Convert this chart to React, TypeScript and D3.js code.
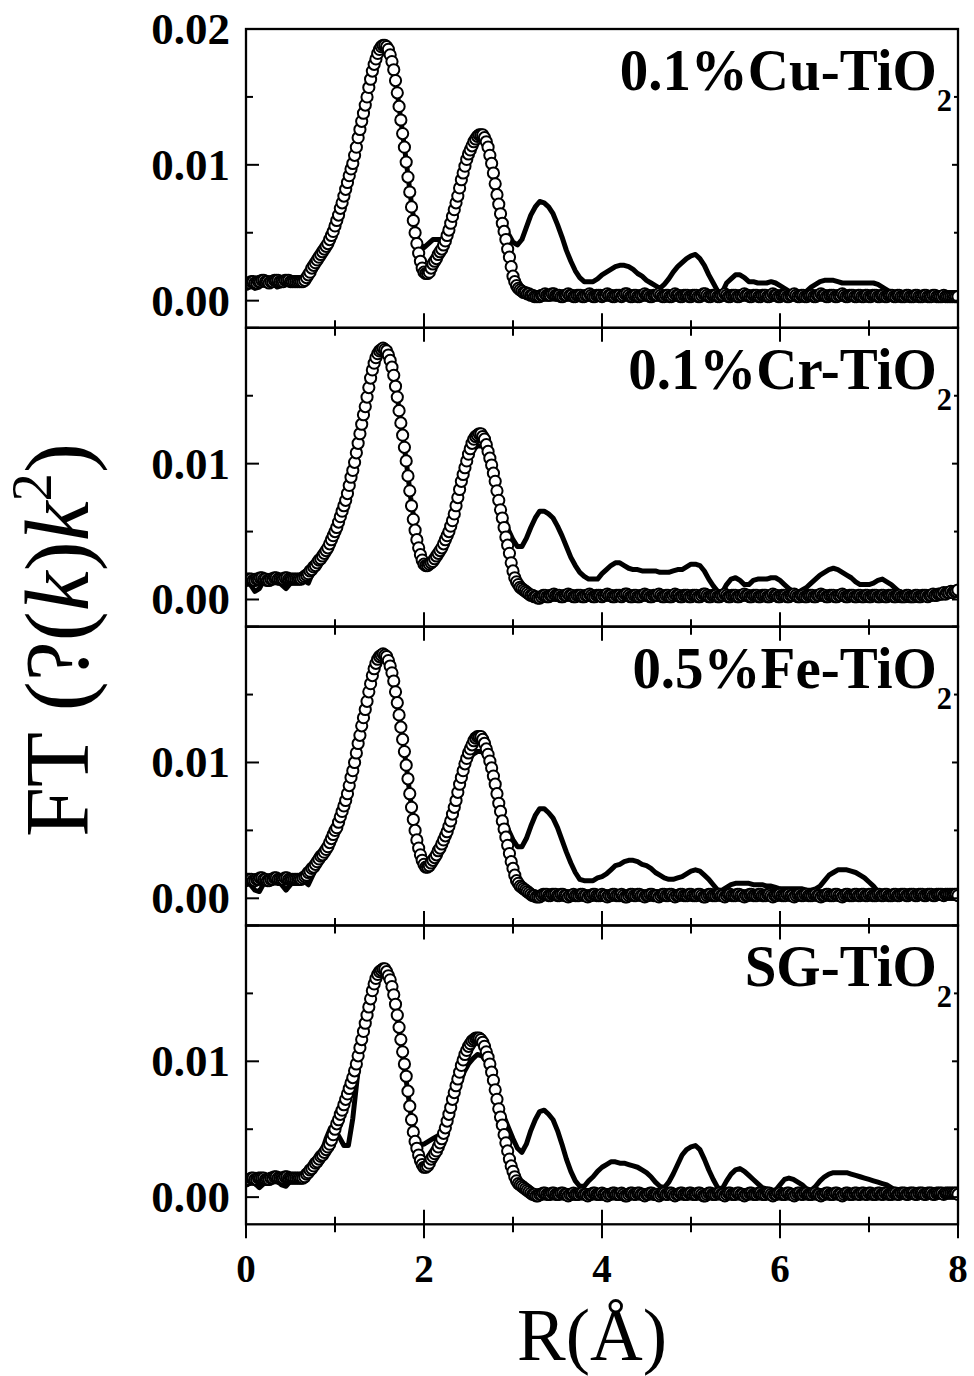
import React from "react";
import * as d3 from "d3";

// Sampling of the two data families along R (Å)
const FIT_STEP = 0.02; // open-circle series
const EXP_STEP = 0.05; // solid-line series

// ---------- 0.1%Cu-TiO2 ----------
const cuFit = [
  0.0012,0.0013,0.0013,0.0014,0.0014,0.0013,0.0013,0.0014,0.0014,0.0015,0.0015,0.0014,0.0014,0.0013,0.0014,0.0014,0.0015,0.0015,0.0015,0.0014,0.0014,0.0014,0.0015,0.0015,0.0015,
  0.0014,0.0014,0.0014,0.0014,0.0014,0.0014,0.0014,0.0014,0.0015,0.0017,0.0019,0.0021,0.0024,0.0026,0.0028,0.0030,0.0032,0.0034,0.0036,0.0038,0.0040,0.0042,0.0045,0.0048,0.0051,
  0.0055,0.0059,0.0063,0.0068,0.0072,0.0077,0.0082,0.0087,0.0092,0.0097,0.0101,0.0107,0.0113,0.0120,0.0126,0.0132,0.0138,0.0144,0.0150,0.0157,0.0163,0.0169,0.0174,0.0178,0.0182,
  0.0185,0.0187,0.0188,0.0188,0.0187,0.0185,0.0181,0.0176,0.0170,0.0162,0.0153,0.0143,0.0133,0.0123,0.0113,0.0102,0.0091,0.0080,0.0069,0.0059,0.0050,0.0042,0.0035,0.0029,0.0024,
  0.0021,0.0020,0.0020,0.0021,0.0024,0.0027,0.0029,0.0031,0.0034,0.0036,0.0038,0.0041,0.0044,0.0048,0.0052,0.0057,0.0062,0.0067,0.0072,0.0077,0.0083,0.0089,0.0094,0.0099,0.0104,
  0.0108,0.0111,0.0114,0.0117,0.0119,0.0121,0.0122,0.0122,0.0122,0.0120,0.0117,0.0113,0.0107,0.0101,0.0094,0.0086,0.0078,0.0071,0.0064,0.0057,0.0051,0.0045,0.0038,0.0032,0.0025,
  0.0018,0.0014,0.0011,0.0009,0.0008,0.0007,0.0006,0.0006,0.0005,0.0005,0.0004,0.0004,0.0003,0.0003,0.0003,0.0003,0.0004,0.0004,0.0005,0.0004,0.0004,0.0004,0.0005,0.0005,0.0004,
  0.0004,0.0004,0.0003,0.0003,0.0004,0.0004,0.0005,0.0004,0.0004,0.0003,0.0003,0.0004,0.0004,0.0004,0.0003,0.0003,0.0004,0.0004,0.0005,0.0004,0.0003,0.0003,0.0004,0.0004,0.0004,
  0.0003,0.0004,0.0004,0.0005,0.0004,0.0004,0.0003,0.0003,0.0004,0.0004,0.0004,0.0003,0.0004,0.0005,0.0005,0.0004,0.0003,0.0003,0.0004,0.0004,0.0003,0.0003,0.0004,0.0004,0.0005,
  0.0004,0.0004,0.0003,0.0003,0.0004,0.0004,0.0004,0.0005,0.0004,0.0003,0.0003,0.0004,0.0004,0.0003,0.0003,0.0004,0.0005,0.0004,0.0004,0.0003,0.0003,0.0004,0.0004,0.0004,0.0003,
  0.0003,0.0004,0.0004,0.0004,0.0003,0.0003,0.0004,0.0005,0.0005,0.0004,0.0003,0.0003,0.0004,0.0004,0.0004,0.0003,0.0003,0.0004,0.0004,0.0005,0.0004,0.0003,0.0003,0.0004,0.0004,
  0.0004,0.0003,0.0003,0.0004,0.0004,0.0005,0.0004,0.0004,0.0003,0.0003,0.0004,0.0004,0.0004,0.0003,0.0003,0.0004,0.0004,0.0004,0.0003,0.0003,0.0004,0.0005,0.0004,0.0004,0.0003,
  0.0003,0.0004,0.0004,0.0004,0.0003,0.0003,0.0004,0.0004,0.0005,0.0004,0.0003,0.0003,0.0004,0.0004,0.0003,0.0003,0.0004,0.0004,0.0004,0.0003,0.0003,0.0004,0.0004,0.0005,0.0004,
  0.0004,0.0003,0.0003,0.0004,0.0004,0.0004,0.0003,0.0003,0.0004,0.0004,0.0005,0.0004,0.0003,0.0003,0.0004,0.0004,0.0004,0.0003,0.0003,0.0004,0.0004,0.0003,0.0003,0.0004,0.0004,
  0.0003,0.0003,0.0004,0.0004,0.0004,0.0003,0.0003,0.0004,0.0004,0.0003,0.0003,0.0004,0.0004,0.0004,0.0003,0.0003,0.0004,0.0004,0.0003,0.0003,0.0003,0.0004,0.0004,0.0003,0.0003,
  0.0003,0.0004,0.0004,0.0003,0.0003,0.0003,0.0004,0.0004,0.0003,0.0003,0.0003,0.0004,0.0004,0.0003,0.0003,0.0003,0.0003,0.0004,0.0003,0.0003,0.0003,0.0003,0.0003,0.0003,0.0003,
  0.0003,
];
const cuExp = [
  0.0012,0.0011,0.0009,0.0010,0.0013,0.0014,0.0013,0.0010,0.0011,0.0014,
  0.0014,0.0013,0.0013,0.0014,0.0018,0.0024,0.0029,0.0034,0.0039,0.0046,
  0.0055,0.0065,0.0077,0.0090,0.0101,0.0117,0.0132,0.0147,0.0163,0.0176,
  0.0184,0.0187,0.0184,0.0172,0.0153,0.0128,0.0103,0.0076,0.0053,0.0041,
  0.0039,0.0042,0.0045,0.0045,0.0045,0.0049,0.0057,0.0070,0.0083,0.0096,
  0.0107,0.0115,0.0120,0.0120,0.0116,0.0106,0.0090,0.0073,0.0058,0.0049,
  0.0043,0.0041,0.0045,0.0054,0.0063,0.0069,0.0073,0.0072,0.0069,0.0064,
  0.0056,0.0047,0.0037,0.0029,0.0022,0.0017,0.0014,0.0014,0.0014,0.0016,
  0.0019,0.0021,0.0023,0.0025,0.0026,0.0026,0.0025,0.0023,0.0020,0.0018,
  0.0015,0.0013,0.0011,0.0009,0.0012,0.0016,0.0021,0.0025,0.0028,0.0031,
  0.0033,0.0034,0.0031,0.0026,0.0019,0.0013,0.0007,0.0006,0.0013,0.0016,
  0.0019,0.0019,0.0017,0.0014,0.0014,0.0013,0.0013,0.0013,0.0014,0.0013,
  0.0011,0.0009,0.0007,0.0006,0.0005,0.0006,0.0007,0.0010,0.0012,0.0014,
  0.0015,0.0015,0.0015,0.0014,0.0013,0.0013,0.0013,0.0013,0.0013,0.0013,
  0.0013,0.0013,0.0012,0.0010,0.0008,0.0006,0.0004,0.0003,0.0003,0.0003,
  0.0003,0.0003,0.0003,0.0003,0.0003,0.0003,0.0003,0.0003,0.0003,0.0003,
  0.0003,
];

// ---------- 0.1%Cr-TiO2 ----------
const crFit = [
  0.0014,0.0015,0.0015,0.0015,0.0014,0.0014,0.0015,0.0015,0.0016,0.0016,0.0015,0.0015,0.0014,0.0014,0.0015,0.0015,0.0016,0.0016,0.0015,0.0015,0.0015,0.0015,0.0016,0.0016,0.0015,
  0.0015,0.0015,0.0015,0.0015,0.0015,0.0015,0.0015,0.0016,0.0017,0.0018,0.0019,0.0021,0.0022,0.0024,0.0025,0.0027,0.0029,0.0030,0.0032,0.0034,0.0036,0.0038,0.0041,0.0044,0.0047,
  0.0050,0.0053,0.0057,0.0061,0.0065,0.0069,0.0073,0.0078,0.0084,0.0090,0.0095,0.0101,0.0108,0.0115,0.0122,0.0129,0.0136,0.0142,0.0149,0.0156,0.0163,0.0169,0.0174,0.0178,0.0181,
  0.0183,0.0184,0.0185,0.0184,0.0183,0.0180,0.0176,0.0171,0.0165,0.0157,0.0149,0.0139,0.0130,0.0121,0.0112,0.0102,0.0091,0.0080,0.0069,0.0059,0.0051,0.0044,0.0038,0.0033,0.0029,
  0.0026,0.0025,0.0025,0.0026,0.0027,0.0028,0.0030,0.0032,0.0034,0.0036,0.0038,0.0041,0.0044,0.0047,0.0050,0.0054,0.0058,0.0063,0.0069,0.0075,0.0081,0.0087,0.0092,0.0097,0.0102,
  0.0107,0.0111,0.0115,0.0118,0.0120,0.0121,0.0122,0.0122,0.0120,0.0118,0.0114,0.0109,0.0104,0.0099,0.0093,0.0087,0.0080,0.0073,0.0066,0.0060,0.0053,0.0046,0.0040,0.0034,0.0027,
  0.0021,0.0016,0.0013,0.0011,0.0009,0.0008,0.0007,0.0006,0.0005,0.0004,0.0003,0.0003,0.0002,0.0002,0.0001,0.0001,0.0002,0.0003,0.0003,0.0002,0.0002,0.0003,0.0003,0.0004,0.0003,
  0.0003,0.0003,0.0002,0.0002,0.0003,0.0003,0.0004,0.0003,0.0003,0.0002,0.0002,0.0003,0.0003,0.0003,0.0002,0.0002,0.0003,0.0003,0.0004,0.0003,0.0002,0.0002,0.0003,0.0003,0.0003,
  0.0002,0.0003,0.0003,0.0004,0.0003,0.0003,0.0002,0.0002,0.0003,0.0003,0.0003,0.0002,0.0003,0.0004,0.0004,0.0003,0.0002,0.0002,0.0003,0.0003,0.0002,0.0002,0.0003,0.0003,0.0004,
  0.0003,0.0003,0.0002,0.0002,0.0003,0.0003,0.0003,0.0004,0.0003,0.0002,0.0002,0.0003,0.0003,0.0002,0.0002,0.0003,0.0004,0.0003,0.0003,0.0002,0.0002,0.0003,0.0003,0.0003,0.0002,
  0.0002,0.0003,0.0003,0.0003,0.0002,0.0002,0.0003,0.0004,0.0004,0.0003,0.0002,0.0002,0.0003,0.0003,0.0003,0.0002,0.0002,0.0003,0.0003,0.0004,0.0003,0.0002,0.0002,0.0003,0.0003,
  0.0003,0.0002,0.0002,0.0003,0.0003,0.0004,0.0003,0.0003,0.0002,0.0002,0.0003,0.0003,0.0003,0.0002,0.0002,0.0003,0.0003,0.0003,0.0002,0.0002,0.0003,0.0004,0.0003,0.0003,0.0002,
  0.0002,0.0003,0.0003,0.0003,0.0002,0.0002,0.0003,0.0003,0.0004,0.0003,0.0002,0.0002,0.0003,0.0003,0.0002,0.0002,0.0003,0.0003,0.0003,0.0002,0.0002,0.0003,0.0003,0.0004,0.0003,
  0.0003,0.0002,0.0002,0.0003,0.0003,0.0003,0.0002,0.0002,0.0003,0.0003,0.0004,0.0003,0.0002,0.0002,0.0003,0.0003,0.0003,0.0002,0.0002,0.0003,0.0003,0.0002,0.0002,0.0003,0.0003,
  0.0002,0.0002,0.0003,0.0003,0.0003,0.0002,0.0002,0.0003,0.0003,0.0002,0.0002,0.0003,0.0003,0.0003,0.0002,0.0002,0.0003,0.0003,0.0002,0.0002,0.0002,0.0003,0.0003,0.0002,0.0002,
  0.0002,0.0003,0.0003,0.0002,0.0002,0.0003,0.0003,0.0003,0.0002,0.0003,0.0003,0.0004,0.0003,0.0003,0.0004,0.0004,0.0004,0.0005,0.0004,0.0005,0.0005,0.0006,0.0005,0.0006,0.0006,
  0.0007,
];
const crExp = [
  0.0015,0.0011,0.0006,0.0008,0.0014,0.0015,0.0015,0.0014,0.0011,0.0008,
  0.0012,0.0015,0.0015,0.0014,0.0012,0.0020,0.0027,0.0031,0.0035,0.0042,
  0.0050,0.0060,0.0070,0.0083,0.0096,0.0113,0.0130,0.0147,0.0163,0.0175,
  0.0182,0.0184,0.0180,0.0166,0.0149,0.0126,0.0102,0.0075,0.0054,0.0038,
  0.0027,0.0025,0.0028,0.0032,0.0037,0.0044,0.0054,0.0068,0.0083,0.0094,
  0.0104,0.0110,0.0113,0.0113,0.0109,0.0101,0.0088,0.0074,0.0061,0.0051,
  0.0044,0.0039,0.0039,0.0045,0.0053,0.0060,0.0065,0.0065,0.0063,0.0060,
  0.0054,0.0047,0.0039,0.0031,0.0025,0.0020,0.0017,0.0015,0.0015,0.0015,
  0.0019,0.0022,0.0025,0.0027,0.0027,0.0025,0.0023,0.0022,0.0022,0.0021,
  0.0021,0.0021,0.0021,0.0020,0.0020,0.0020,0.0021,0.0022,0.0022,0.0024,
  0.0026,0.0026,0.0025,0.0021,0.0015,0.0010,0.0006,0.0005,0.0011,0.0015,
  0.0016,0.0014,0.0011,0.0011,0.0014,0.0015,0.0015,0.0015,0.0016,0.0016,
  0.0014,0.0011,0.0008,0.0006,0.0005,0.0007,0.0009,0.0012,0.0015,0.0018,
  0.0020,0.0022,0.0023,0.0022,0.0020,0.0018,0.0016,0.0013,0.0011,0.0011,
  0.0011,0.0012,0.0014,0.0015,0.0013,0.0011,0.0008,0.0005,0.0004,0.0003,
  0.0003,0.0003,0.0003,0.0003,0.0003,0.0004,0.0005,0.0006,0.0007,0.0008,
  0.0009,
];

// ---------- 0.5%Fe-TiO2 ----------
const feFit = [
  0.0013,0.0014,0.0014,0.0014,0.0013,0.0013,0.0014,0.0014,0.0015,0.0015,0.0014,0.0014,0.0013,0.0013,0.0014,0.0014,0.0015,0.0015,0.0014,0.0014,0.0014,0.0014,0.0015,0.0015,0.0014,
  0.0014,0.0014,0.0014,0.0014,0.0014,0.0014,0.0014,0.0015,0.0016,0.0017,0.0019,0.0020,0.0022,0.0023,0.0025,0.0027,0.0029,0.0031,0.0032,0.0034,0.0036,0.0038,0.0041,0.0044,0.0047,
  0.0050,0.0052,0.0056,0.0060,0.0064,0.0068,0.0072,0.0077,0.0083,0.0089,0.0094,0.0100,0.0107,0.0114,0.0120,0.0127,0.0133,0.0139,0.0145,0.0152,0.0158,0.0164,0.0169,0.0173,0.0176,
  0.0178,0.0179,0.0180,0.0179,0.0178,0.0175,0.0171,0.0166,0.0160,0.0152,0.0144,0.0135,0.0126,0.0117,0.0108,0.0098,0.0088,0.0077,0.0067,0.0058,0.0050,0.0043,0.0037,0.0032,0.0028,
  0.0025,0.0023,0.0023,0.0024,0.0026,0.0028,0.0030,0.0032,0.0035,0.0037,0.0040,0.0043,0.0046,0.0049,0.0053,0.0057,0.0062,0.0067,0.0072,0.0078,0.0084,0.0089,0.0094,0.0099,0.0103,
  0.0107,0.0110,0.0113,0.0116,0.0118,0.0119,0.0119,0.0119,0.0117,0.0114,0.0110,0.0106,0.0101,0.0096,0.0090,0.0084,0.0077,0.0070,0.0064,0.0057,0.0051,0.0045,0.0039,0.0033,0.0027,
  0.0022,0.0017,0.0013,0.0011,0.0009,0.0008,0.0007,0.0006,0.0005,0.0004,0.0003,0.0002,0.0002,0.0001,0.0001,0.0001,0.0002,0.0003,0.0003,0.0003,0.0002,0.0002,0.0003,0.0003,0.0003,
  0.0002,0.0002,0.0003,0.0003,0.0002,0.0002,0.0001,0.0002,0.0002,0.0003,0.0002,0.0002,0.0002,0.0003,0.0003,0.0002,0.0002,0.0001,0.0002,0.0002,0.0003,0.0003,0.0002,0.0002,0.0002,
  0.0003,0.0002,0.0002,0.0001,0.0002,0.0002,0.0003,0.0003,0.0002,0.0002,0.0002,0.0003,0.0002,0.0001,0.0001,0.0002,0.0003,0.0003,0.0002,0.0002,0.0003,0.0003,0.0002,0.0002,0.0001,
  0.0002,0.0002,0.0003,0.0003,0.0002,0.0002,0.0002,0.0001,0.0002,0.0003,0.0003,0.0002,0.0002,0.0003,0.0003,0.0002,0.0001,0.0002,0.0002,0.0003,0.0003,0.0002,0.0002,0.0002,0.0003,
  0.0003,0.0002,0.0002,0.0002,0.0003,0.0003,0.0002,0.0001,0.0001,0.0002,0.0003,0.0003,0.0002,0.0002,0.0002,0.0003,0.0003,0.0002,0.0002,0.0001,0.0002,0.0003,0.0003,0.0002,0.0002,
  0.0002,0.0003,0.0003,0.0002,0.0002,0.0001,0.0002,0.0002,0.0003,0.0003,0.0002,0.0002,0.0002,0.0003,0.0003,0.0002,0.0002,0.0002,0.0003,0.0003,0.0002,0.0001,0.0002,0.0002,0.0003,
  0.0003,0.0002,0.0002,0.0002,0.0003,0.0003,0.0002,0.0002,0.0001,0.0002,0.0003,0.0003,0.0002,0.0002,0.0003,0.0003,0.0002,0.0002,0.0002,0.0003,0.0003,0.0002,0.0002,0.0001,0.0002,
  0.0002,0.0003,0.0003,0.0002,0.0002,0.0002,0.0003,0.0003,0.0002,0.0002,0.0001,0.0002,0.0003,0.0003,0.0002,0.0002,0.0002,0.0003,0.0003,0.0002,0.0002,0.0003,0.0003,0.0002,0.0002,
  0.0003,0.0003,0.0002,0.0002,0.0002,0.0003,0.0003,0.0002,0.0002,0.0003,0.0003,0.0002,0.0002,0.0002,0.0003,0.0003,0.0002,0.0002,0.0003,0.0003,0.0003,0.0002,0.0002,0.0003,0.0003,
  0.0003,0.0002,0.0002,0.0003,0.0003,0.0003,0.0002,0.0002,0.0003,0.0003,0.0003,0.0002,0.0002,0.0003,0.0003,0.0003,0.0003,0.0002,0.0003,0.0003,0.0003,0.0003,0.0003,0.0003,0.0003,
  0.0002,
];
const feExp = [
  0.0013,0.0010,0.0006,0.0005,0.0011,0.0014,0.0014,0.0013,0.0010,0.0006,
  0.0010,0.0014,0.0014,0.0013,0.0010,0.0017,0.0025,0.0030,0.0035,0.0042,
  0.0049,0.0058,0.0068,0.0080,0.0093,0.0110,0.0126,0.0142,0.0158,0.0170,
  0.0177,0.0179,0.0175,0.0160,0.0144,0.0122,0.0098,0.0072,0.0052,0.0036,
  0.0026,0.0024,0.0027,0.0032,0.0038,0.0045,0.0055,0.0069,0.0082,0.0092,
  0.0101,0.0106,0.0108,0.0108,0.0104,0.0096,0.0084,0.0071,0.0059,0.0050,
  0.0043,0.0038,0.0038,0.0044,0.0053,0.0061,0.0066,0.0066,0.0063,0.0059,
  0.0052,0.0043,0.0034,0.0026,0.0019,0.0014,0.0013,0.0013,0.0013,0.0015,
  0.0016,0.0018,0.0021,0.0024,0.0025,0.0027,0.0028,0.0028,0.0027,0.0025,
  0.0024,0.0022,0.0019,0.0017,0.0015,0.0014,0.0014,0.0015,0.0016,0.0018,
  0.0020,0.0021,0.0020,0.0017,0.0014,0.0010,0.0006,0.0006,0.0008,0.0010,
  0.0011,0.0011,0.0011,0.0011,0.0010,0.0010,0.0010,0.0009,0.0009,0.0008,
  0.0007,0.0007,0.0007,0.0007,0.0007,0.0007,0.0006,0.0006,0.0007,0.0009,
  0.0013,0.0017,0.0019,0.0021,0.0021,0.0021,0.0020,0.0019,0.0017,0.0015,
  0.0012,0.0009,0.0005,0.0003,0.0002,0.0002,0.0002,0.0002,0.0002,0.0002,
  0.0002,0.0002,0.0002,0.0002,0.0002,0.0002,0.0002,0.0002,0.0002,0.0002,
  0.0002,
];

// ---------- SG-TiO2 ----------
const sgFit = [
  0.0012,0.0013,0.0013,0.0014,0.0014,0.0013,0.0013,0.0014,0.0014,0.0014,0.0014,0.0013,0.0013,0.0013,0.0014,0.0014,0.0015,0.0015,0.0014,0.0014,0.0014,0.0014,0.0015,0.0015,0.0014,
  0.0014,0.0014,0.0014,0.0014,0.0014,0.0014,0.0014,0.0014,0.0015,0.0017,0.0018,0.0020,0.0021,0.0023,0.0025,0.0026,0.0028,0.0030,0.0031,0.0033,0.0035,0.0037,0.0039,0.0042,0.0046,
  0.0050,0.0054,0.0057,0.0061,0.0064,0.0068,0.0072,0.0076,0.0080,0.0084,0.0088,0.0093,0.0098,0.0104,0.0110,0.0116,0.0122,0.0128,0.0134,0.0140,0.0146,0.0152,0.0157,0.0161,0.0164,
  0.0166,0.0167,0.0168,0.0168,0.0166,0.0163,0.0160,0.0155,0.0149,0.0142,0.0134,0.0125,0.0116,0.0107,0.0098,0.0089,0.0078,0.0067,0.0057,0.0048,0.0041,0.0036,0.0031,0.0027,0.0024,
  0.0022,0.0022,0.0023,0.0025,0.0028,0.0030,0.0032,0.0034,0.0037,0.0040,0.0043,0.0047,0.0051,0.0056,0.0061,0.0066,0.0072,0.0077,0.0082,0.0087,0.0092,0.0097,0.0101,0.0105,0.0108,
  0.0111,0.0113,0.0115,0.0116,0.0117,0.0117,0.0117,0.0116,0.0114,0.0111,0.0107,0.0103,0.0098,0.0092,0.0086,0.0079,0.0072,0.0065,0.0059,0.0053,0.0046,0.0040,0.0034,0.0028,0.0023,
  0.0019,0.0015,0.0012,0.0010,0.0009,0.0008,0.0007,0.0006,0.0005,0.0004,0.0003,0.0002,0.0002,0.0001,0.0001,0.0002,0.0002,0.0003,0.0003,0.0002,0.0002,0.0002,0.0003,0.0003,0.0002,
  0.0002,0.0002,0.0003,0.0003,0.0002,0.0002,0.0001,0.0002,0.0002,0.0003,0.0002,0.0002,0.0002,0.0003,0.0003,0.0002,0.0002,0.0001,0.0002,0.0002,0.0003,0.0003,0.0002,0.0002,0.0002,
  0.0003,0.0002,0.0002,0.0001,0.0002,0.0002,0.0003,0.0003,0.0002,0.0002,0.0002,0.0003,0.0002,0.0001,0.0001,0.0002,0.0003,0.0003,0.0002,0.0002,0.0003,0.0003,0.0002,0.0002,0.0001,
  0.0002,0.0002,0.0003,0.0003,0.0002,0.0002,0.0002,0.0001,0.0002,0.0003,0.0003,0.0002,0.0002,0.0003,0.0003,0.0002,0.0001,0.0002,0.0002,0.0003,0.0003,0.0002,0.0002,0.0002,0.0003,
  0.0003,0.0002,0.0002,0.0002,0.0003,0.0003,0.0002,0.0001,0.0001,0.0002,0.0003,0.0003,0.0002,0.0002,0.0002,0.0003,0.0003,0.0002,0.0002,0.0001,0.0002,0.0003,0.0003,0.0002,0.0002,
  0.0002,0.0003,0.0003,0.0002,0.0002,0.0001,0.0002,0.0002,0.0003,0.0003,0.0002,0.0002,0.0002,0.0003,0.0003,0.0002,0.0002,0.0002,0.0003,0.0003,0.0002,0.0001,0.0002,0.0002,0.0003,
  0.0003,0.0002,0.0002,0.0002,0.0003,0.0003,0.0002,0.0002,0.0001,0.0002,0.0003,0.0003,0.0002,0.0002,0.0003,0.0003,0.0002,0.0002,0.0002,0.0003,0.0003,0.0002,0.0002,0.0001,0.0002,
  0.0002,0.0003,0.0003,0.0002,0.0002,0.0002,0.0003,0.0003,0.0002,0.0002,0.0001,0.0002,0.0003,0.0003,0.0002,0.0002,0.0002,0.0003,0.0003,0.0002,0.0002,0.0003,0.0003,0.0002,0.0002,
  0.0003,0.0003,0.0002,0.0002,0.0002,0.0003,0.0003,0.0002,0.0002,0.0003,0.0003,0.0002,0.0002,0.0002,0.0003,0.0003,0.0002,0.0002,0.0003,0.0003,0.0003,0.0002,0.0002,0.0003,0.0003,
  0.0003,0.0002,0.0002,0.0003,0.0003,0.0003,0.0002,0.0002,0.0003,0.0003,0.0003,0.0002,0.0002,0.0003,0.0003,0.0003,0.0003,0.0002,0.0003,0.0003,0.0003,0.0003,0.0003,0.0003,0.0003,
  0.0002,
];
const sgExp = [
  0.0013,0.0012,0.0010,0.0007,0.0010,0.0013,0.0013,0.0012,0.0009,0.0008,
  0.0012,0.0014,0.0014,0.0014,0.0015,0.0021,0.0027,0.0033,0.0043,0.0051,
  0.0050,0.0044,0.0038,0.0038,0.0058,0.0088,0.0112,0.0130,0.0147,0.0160,
  0.0166,0.0168,0.0164,0.0150,0.0132,0.0109,0.0086,0.0062,0.0045,0.0039,
  0.0039,0.0041,0.0043,0.0045,0.0047,0.0052,0.0062,0.0073,0.0083,0.0092,
  0.0098,0.0102,0.0105,0.0104,0.0100,0.0092,0.0080,0.0068,0.0059,0.0051,
  0.0043,0.0036,0.0033,0.0039,0.0049,0.0057,0.0063,0.0064,0.0061,0.0057,
  0.0049,0.0039,0.0028,0.0019,0.0012,0.0008,0.0008,0.0012,0.0015,0.0019,
  0.0022,0.0024,0.0026,0.0026,0.0025,0.0025,0.0024,0.0023,0.0022,0.0020,
  0.0018,0.0015,0.0011,0.0008,0.0007,0.0011,0.0017,0.0024,0.0031,0.0035,
  0.0037,0.0038,0.0035,0.0028,0.0020,0.0013,0.0007,0.0006,0.0012,0.0017,
  0.0020,0.0021,0.0019,0.0016,0.0013,0.0010,0.0007,0.0006,0.0005,0.0005,
  0.0009,0.0013,0.0014,0.0013,0.0011,0.0009,0.0006,0.0005,0.0008,0.0012,
  0.0015,0.0017,0.0018,0.0018,0.0018,0.0018,0.0017,0.0016,0.0015,0.0014,
  0.0013,0.0012,0.0011,0.0010,0.0009,0.0007,0.0005,0.0004,0.0003,0.0002,
  0.0002,0.0002,0.0002,0.0002,0.0002,0.0002,0.0002,0.0002,0.0002,0.0002,
  0.0002,
];

// Panel order, top to bottom
const sampleNames = ["0.1%Cu-TiO", "0.1%Cr-TiO", "0.5%Fe-TiO", "SG-TiO"];
const sampleSubscript = "2";
const fitSeries = [cuFit, crFit, feFit, sgFit];
const expSeries = [cuExp, crExp, feExp, sgExp];

// Axes
const xDomain = [0, 8];
const yDomain = [-0.002, 0.02];
const xMajorTicks = [0, 2, 4, 6, 8];
const xMinorTicks = [1, 3, 5, 7];
const yMajorTicks = [0, 0.01, 0.02];
const yMinorTicks = [0.005, 0.015];
const yTickLabels = [
  ["0.00", "0.01", "0.02"],
  ["0.00", "0.01"],
  ["0.00", "0.01"],
  ["0.00", "0.01"],
];

const W = 974;
const H = 1376;
const PLOT_LEFT = 246;
const PLOT_RIGHT = 958;
const PLOT_TOP = 29;
const PLOT_BOTTOM = 1224.3;
const SERIF = "'Liberation Serif', 'Times New Roman', Times, serif";

export default function App() {
  const nPanels = sampleNames.length;
  const ph = (PLOT_BOTTOM - PLOT_TOP) / nPanels;
  const x = d3.scaleLinear().domain(xDomain).range([PLOT_LEFT, PLOT_RIGHT]);

  const panels = sampleNames.map((name, p) => {
    const top = PLOT_TOP + p * ph;
    const bottom = top + ph;
    const y = d3.scaleLinear().domain(yDomain).range([bottom, top]);
    const expPts: [number, number][] = expSeries[p].map((v, i) => [i * EXP_STEP, v]);
    const fitPts: [number, number][] = fitSeries[p].map((v, i) => [i * FIT_STEP, v]);
    const line = d3
      .line<[number, number]>()
      .x((d) => x(d[0]))
      .y((d) => y(d[1]));
    const clipId = `clip-${p}`;
    return (
      <g key={name}>
        <defs>
          <clipPath id={clipId}>
            <rect x={PLOT_LEFT} y={top} width={PLOT_RIGHT - PLOT_LEFT} height={ph} />
          </clipPath>
        </defs>
        <g clipPath={`url(#${clipId})`}>
          <path
            d={line(expPts) || ""}
            fill="none"
            stroke="#000"
            strokeWidth={5}
            strokeLinejoin="round"
            strokeLinecap="round"
          />
          {fitPts.map((d, i) => (
            <circle
              key={i}
              cx={x(d[0])}
              cy={y(d[1])}
              r={5.6}
              fill="#fff"
              stroke="#000"
              strokeWidth={2}
            />
          ))}
        </g>
        {/* frame */}
        <rect
          x={PLOT_LEFT}
          y={top}
          width={PLOT_RIGHT - PLOT_LEFT}
          height={ph}
          fill="none"
          stroke="#000"
          strokeWidth={2.3}
        />
        {/* left and right ticks */}
        {yMajorTicks.map((t) => (
          <g key={`ymaj-${t}`}>
            <line x1={PLOT_LEFT} x2={PLOT_LEFT + 13} y1={y(t)} y2={y(t)} stroke="#000" strokeWidth={2} />
            <line x1={PLOT_RIGHT - 6} x2={PLOT_RIGHT} y1={y(t)} y2={y(t)} stroke="#000" strokeWidth={2} />
          </g>
        ))}
        {yMinorTicks.map((t) => (
          <g key={`ymin-${t}`}>
            <line x1={PLOT_LEFT} x2={PLOT_LEFT + 7} y1={y(t)} y2={y(t)} stroke="#000" strokeWidth={2} />
            <line x1={PLOT_RIGHT - 4} x2={PLOT_RIGHT} y1={y(t)} y2={y(t)} stroke="#000" strokeWidth={2} />
          </g>
        ))}
        {/* bottom ticks crossing the shared edge */}
        {xMajorTicks.map((t) => (
          <line key={`xmaj-${t}`} x1={x(t)} x2={x(t)} y1={bottom - 14.5} y2={bottom + 14} stroke="#000" strokeWidth={2} />
        ))}
        {xMinorTicks.map((t) => (
          <line key={`xmin-${t}`} x1={x(t)} x2={x(t)} y1={bottom - 7.5} y2={bottom + 8} stroke="#000" strokeWidth={2} />
        ))}
        {/* y tick labels */}
        {yTickLabels[p].map((lab) => (
          <text
            key={lab}
            x={230}
            y={y(+lab)}
            textAnchor="end"
            dominantBaseline="central"
            fontFamily={SERIF}
            fontWeight="bold"
            fontSize={45}
          >
            {lab}
          </text>
        ))}
        {/* sample label, slightly condensed */}
        <text
          transform={`translate(952,${top + 61}) scale(0.95,1)`}
          textAnchor="end"
          fontFamily={SERIF}
          fontWeight="bold"
          fontSize={60}
        >
          {name}
          <tspan fontSize={32} dy={21}>
            {sampleSubscript}
          </tspan>
        </text>
      </g>
    );
  });

  return (
    <svg
      width={W}
      height={H}
      viewBox={`0 0 ${W} ${H}`}
      style={{ position: "absolute", left: 0, top: 0, display: "block", background: "#fff" }}
    >
      <rect x={0} y={0} width={W} height={H} fill="#fff" />
      {panels}
      {/* x tick labels */}
      {xMajorTicks.map((t) => (
        <text
          key={`xl-${t}`}
          x={x(t)}
          y={1282}
          textAnchor="middle"
          fontFamily={SERIF}
          fontWeight="bold"
          fontSize={39}
        >
          {t}
        </text>
      ))}
      {/* axis titles */}
      <text x={592} y={1360} textAnchor="middle" fontFamily={SERIF} fontSize={73}>
        R(Å)
      </text>
      <text
        transform="translate(88,640) rotate(-90)"
        textAnchor="middle"
        fontFamily={SERIF}
        fontSize={90}
      >
        FT (?(<tspan fontStyle="italic">k</tspan>)<tspan fontStyle="italic">k</tspan>
        <tspan fontSize={57} dy={-37}>2</tspan>
        <tspan dy={37}>)</tspan>
      </text>
    </svg>
  );
}
